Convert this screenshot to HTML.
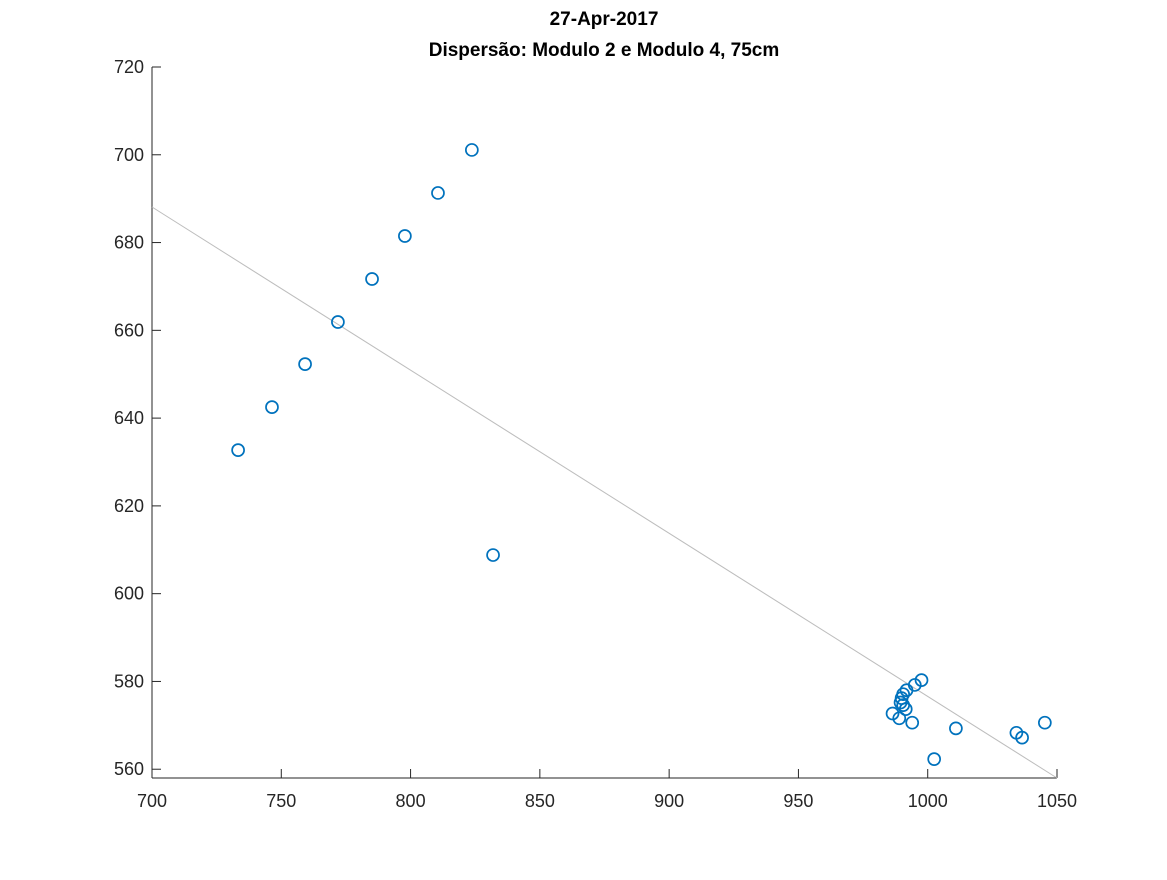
<!DOCTYPE html>
<html><head><meta charset="utf-8"><style>
body{margin:0;background:#fff}
svg text{font-family:"Liberation Sans",Helvetica,Arial,sans-serif}
</style></head><body>
<svg id="chart" width="1167" height="875" viewBox="0 0 1167 875" xmlns="http://www.w3.org/2000/svg">
<rect width="1167" height="875" fill="#fff"/>
<text x="604" y="25" text-anchor="middle" font-size="19" font-weight="bold" fill="#000">27-Apr-2017</text>
<text x="604" y="56" text-anchor="middle" font-size="19" font-weight="bold" fill="#000">Dispersão: Modulo 2 e Modulo 4, 75cm</text>
<g id="axes"></g>
<g id="marks"></g>
</svg>
<script>
const xData = [733.3,746.4,759.2,771.9,785.1,797.8,810.6,823.7,831.9,997.6,995.0,991.8,990.5,989.9,989.5,990.5,991.5,986.4,989.0,994.0,1010.9,1002.5,1034.3,1036.5,1045.3];
const yData = [632.7,642.5,652.3,661.9,671.7,681.5,691.3,701.1,608.8,580.3,579.2,578.0,577.1,576.2,575.2,574.6,573.7,572.7,571.6,570.6,569.3,562.3,568.3,567.2,570.6];
const xTicks = [700,750,800,850,900,950,1000,1050];
const yTicks = [560,580,600,620,640,660,680,700,720];
const fitLine = [[700,688.1],[1050,558]];

const X0=152,X1=1057,Y0=778,Y1=67,xmin=700,xmax=1050,ymin=558,ymax=720;
const sx=v=>X0+(v-xmin)/(xmax-xmin)*(X1-X0);
const sy=v=>Y0-(v-ymin)/(ymax-ymin)*(Y0-Y1);
const NS='http://www.w3.org/2000/svg';
const axes=document.getElementById('axes'), marks=document.getElementById('marks');
function mk(t,a,p){const e=document.createElementNS(NS,t);for(const k in a)e.setAttribute(k,a[k]);p.appendChild(e);return e;}

let l=mk('line',{x1:X0,y1:Y0,x2:X1,y2:Y0,stroke:'#262626','stroke-width':1},axes);


l=mk('line',{x1:X0,y1:Y0,x2:X0,y2:Y1,stroke:'#262626','stroke-width':1},axes);



xTicks.forEach(v=>{
  const t=mk('line',{x1:sx(v),y1:Y0,x2:sx(v),y2:Y0-9,stroke:'#262626'},axes);
  
  
  const tx=mk('text',{x:sx(v),y:Y0+29,'text-anchor':'middle','font-size':18,fill:'#262626'},axes);
  tx.textContent=v;
  
  
});
yTicks.forEach(v=>{
  const t=mk('line',{x1:X0,y1:sy(v),x2:X0+9,y2:sy(v),stroke:'#262626'},axes);
  
  
  const tx=mk('text',{x:X0-8,y:sy(v)+6,'text-anchor':'end','font-size':18,fill:'#262626'},axes);
  tx.textContent=v;
  
  
});

const fl=mk('line',{x1:sx(fitLine[0][0]),y1:sy(fitLine[0][1]),x2:sx(fitLine[1][0]),y2:sy(fitLine[1][1]),stroke:'#bdbdbd','stroke-width':1},marks);



xData.forEach((v,i)=>{
  const c=mk('circle',{cx:sx(v),cy:sy(yData[i]),r:6,fill:'none',stroke:'#0072bd','stroke-width':1.7},marks);
  
  
});
</script>
</body></html>
